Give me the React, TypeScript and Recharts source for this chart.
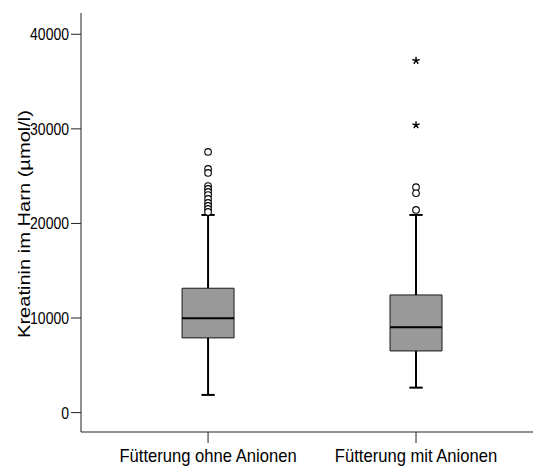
import React from 'react';
import {
  ComposedChart,
  XAxis,
  YAxis,
  Scatter,
  ReferenceArea,
  ReferenceLine,
} from 'recharts';

// Category labels and positions
const categories = ['Fütterung ohne Anionen', 'Fütterung mit Anionen'];
const categoryPos = [1, 2];

// Box statistics per category: [lowWhisker, Q1, median, Q3, highWhisker]
const lowWhisker = [1870, 2640];
const q1 = [7900, 6520];
const median = [9980, 9030];
const q3 = [13150, 12440];
const highWhisker = [20900, 20900];

// Outliers (circles)
const outliersOhne = [27560, 25760, 25340, 23960, 23650, 23330, 23010, 22590, 22170, 21850, 21530, 21220];
const outliersMit = [23830, 23190, 21430];
// Extreme values (stars)
const extremesMit = [37210, 30410];

const yTicks = [0, 10000, 20000, 30000, 40000];
const yDomain = [-2050, 42250];
const xDomain = [0.389, 2.601];
const yLabel = 'Kreatinin im Harn (µmol/l)';

const FONT = '"Liberation Sans", Arial, Helvetica, sans-serif';
const BOX_HALF = 0.125;
const CAP_HALF = 0.032;

const outlierData1 = outliersOhne.map((y) => ({ x: categoryPos[0], y }));
const outlierData2 = outliersMit.map((y) => ({ x: categoryPos[1], y }));
const extremeData2 = extremesMit.map((y) => ({ x: categoryPos[1], y }));

const Circle = (props: any) => {
  const { cx, cy } = props;
  return <circle cx={cx} cy={cy} r={3.3} fill="#fff" stroke="#000" strokeWidth={1.1} />;
};

const Star = (props: any) => {
  const { cx, cy } = props;
  const r = 3.8;
  const d = [0, 1, 2, 3, 4]
    .map((i) => {
      const a = -Math.PI / 2 + (i * 2 * Math.PI) / 5;
      return `M${cx},${cy}L${cx + r * Math.cos(a)},${cy + r * Math.sin(a)}`;
    })
    .join('');
  return <path d={d} stroke="#000" strokeWidth={1.4} fill="none" />;
};

const YTick = (props: any) => {
  const { x, y, payload } = props;
  return (
    <g transform={`translate(${x},${y}) scale(1,1.2)`}>
      <text
        x={0}
        y={0}
        textAnchor="end"
        dominantBaseline="central"
        fontFamily={FONT}
        fontSize={14}
        fill="#000"
      >
        {payload.value}
      </text>
    </g>
  );
};

const XTick = (props: any) => {
  const { x, y, payload } = props;
  const label = categories[categoryPos.indexOf(payload.value)] ?? '';
  return (
    <g transform={`translate(${x},${y + 16}) scale(1,1.05)`}>
      <text x={0} y={0} textAnchor="middle" fontFamily={FONT} fontSize={16.6} fill="#000">
        {label}
      </text>
    </g>
  );
};

const YLabel = (props: any) => {
  const vb = props.viewBox || {};
  const bx = (vb.x || 0) + 22;
  const cy = (vb.y || 0) + (vb.height || 0) / 2 + 1.5;
  return (
    <text
      x={bx}
      y={cy}
      transform={`rotate(-90 ${bx} ${cy})`}
      textAnchor="middle"
      fontFamily={FONT}
      fontSize={16}
      textLength={228}
      lengthAdjust="spacingAndGlyphs"
      fill="#000"
    >
      {yLabel}
    </text>
  );
};

export default function App() {
  return (
    <ComposedChart
      width={533}
      height={458}
      margin={{ top: 5, right: 0, bottom: 0, left: 0 }}
      style={{ fontFamily: FONT }}
    >
      <XAxis
        xAxisId="top"
        orientation="top"
        type="number"
        dataKey="x"
        domain={xDomain}
        allowDataOverflow
        tick={false}
        tickLine={false}
        height={0}
        axisLine={{ stroke: '#222', strokeWidth: 1 }}
      />
      <XAxis
        type="number"
        dataKey="x"
        domain={xDomain}
        allowDataOverflow
        ticks={categoryPos}
        height={34}
        tickSize={11}
        tickMargin={3}
        axisLine={{ stroke: '#222', strokeWidth: 1 }}
        tickLine={{ stroke: '#222', strokeWidth: 1 }}
        tick={<XTick />}
      />
      <YAxis
        type="number"
        domain={yDomain}
        allowDataOverflow
        ticks={yTicks}
        width={73}
        tickSize={10}
        tickMargin={2}
        axisLine={{ stroke: '#222', strokeWidth: 1 }}
        tickLine={{ stroke: '#222', strokeWidth: 1 }}
        tick={<YTick />}
        label={{ content: <YLabel /> }}
      />

      {categoryPos.map((p, i) => (
        <ReferenceLine
          key={`wl${i}`}
          segment={[{ x: p, y: lowWhisker[i] }, { x: p, y: q1[i] }]}
          stroke="#000"
          strokeWidth={2}
          ifOverflow="visible"
        />
      ))}
      {categoryPos.map((p, i) => (
        <ReferenceLine
          key={`wh${i}`}
          segment={[{ x: p, y: q3[i] }, { x: p, y: highWhisker[i] }]}
          stroke="#000"
          strokeWidth={2}
          ifOverflow="visible"
        />
      ))}
      {categoryPos.map((p, i) => (
        <ReferenceLine
          key={`cl${i}`}
          segment={[{ x: p - CAP_HALF, y: lowWhisker[i] }, { x: p + CAP_HALF, y: lowWhisker[i] }]}
          stroke="#000"
          strokeWidth={2}
          ifOverflow="visible"
        />
      ))}
      {categoryPos.map((p, i) => (
        <ReferenceLine
          key={`ch${i}`}
          segment={[{ x: p - CAP_HALF, y: highWhisker[i] }, { x: p + CAP_HALF, y: highWhisker[i] }]}
          stroke="#000"
          strokeWidth={2}
          ifOverflow="visible"
        />
      ))}
      {categoryPos.map((p, i) => (
        <ReferenceArea
          key={`box${i}`}
          x1={p - BOX_HALF}
          x2={p + BOX_HALF}
          y1={q1[i]}
          y2={q3[i]}
          fill="#999999"
          fillOpacity={1}
          stroke="#1a1a1a"
          strokeWidth={1}
          ifOverflow="visible"
        />
      ))}
      {categoryPos.map((p, i) => (
        <ReferenceLine
          key={`med${i}`}
          segment={[{ x: p - BOX_HALF, y: median[i] }, { x: p + BOX_HALF, y: median[i] }]}
          stroke="#000"
          strokeWidth={2}
          ifOverflow="visible"
        />
      ))}

      <Scatter data={outlierData1} dataKey="y" shape={<Circle />} isAnimationActive={false} />
      <Scatter data={outlierData2} dataKey="y" shape={<Circle />} isAnimationActive={false} />
      <Scatter data={extremeData2} dataKey="y" shape={<Star />} isAnimationActive={false} />
    </ComposedChart>
  );
}
